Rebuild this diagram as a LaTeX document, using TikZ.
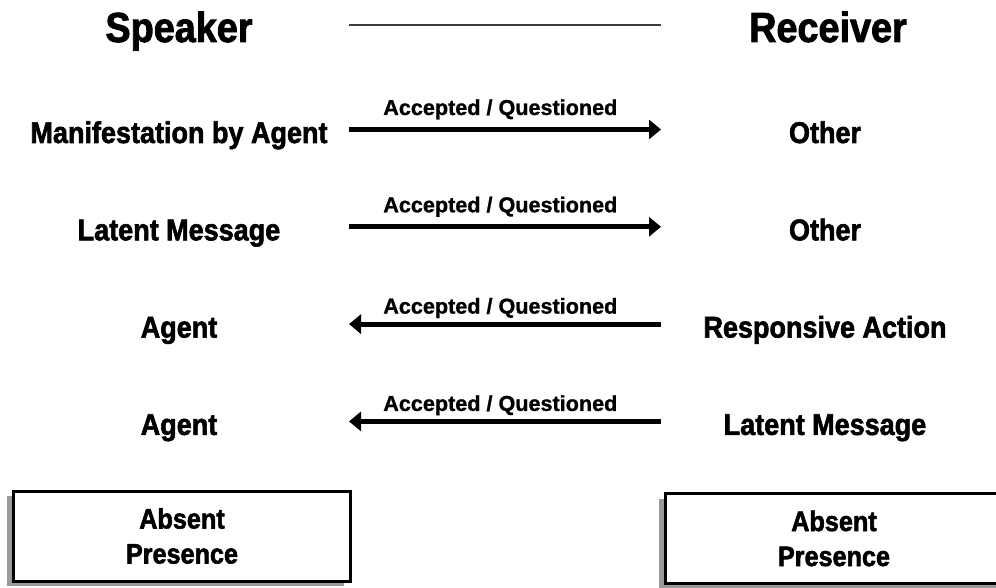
\documentclass[tikz,border=0pt]{standalone}
\usepackage{fontspec}
\newfontfamily\gruesa{Liberation Sans Bold}[FakeStretch=0.9, FakeBold=2]
\newfontfamily\delgada{Liberation Sans Bold}[FakeBold=1]
\usepackage{xcolor}
\usetikzlibrary{arrows.meta, positioning, shadows}
\definecolor{cnegro}{HTML}{000000}
\definecolor{cgris}{HTML}{3C3C3C}
\definecolor{csombra}{HTML}{9A9A9A}
\tikzset{
  titulo/.style={font=\gruesa\fontsize{42}{50}\selectfont, inner sep=0pt, text height=34pt, text depth=0pt},
  fila/.style={font=\gruesa\fontsize{30}{36}\selectfont, inner sep=0pt, text height=27pt, text depth=0pt},
  etiqueta/.style={font=\delgada\fontsize{21.6}{26}\selectfont, inner sep=0pt, text depth=0pt},
  caja/.style={draw=cnegro, fill=white, line width=3pt, minimum width=337pt, minimum height=90pt, align=center,
               font=\gruesa\fontsize{28}{35}\selectfont,
               drop shadow={shadow xshift=-7pt, shadow yshift=-5pt, fill=csombra, opacity=1}},
  flecha/.style={-{Triangle[length=12pt, width=19pt]}, line width=5pt, draw=cnegro},
  raya/.style={line width=2.5pt, draw=cgris},
}
\begin{document}
\begin{tikzpicture}[x=1pt, y=-1pt, node distance=97.3pt, on grid]
  \useasboundingbox (0,0) rectangle (996,588);
  \clip (0,0) rectangle (996,588);
  \coordinate (ml) at (349,0);
  \coordinate (mr) at (661,0);
  % encabezado
  \node[titulo, anchor=base] (s0) at (179,42) {Speaker};
  \node[titulo, anchor=base] (r0) at (828,42) {Receiver};
  \draw[raya] (ml |- s0) -- (mr |- s0);
  % filas
  \node[fila, anchor=base] (s1) at (179,143) {Manifestation by Agent};
  \node[fila, below=of s1] (s2) {Latent Message};
  \node[fila, below=of s2] (s3) {Agent};
  \node[fila, below=of s3] (s4) {Agent};
  \node[fila, right=646pt of s1] (r1) {Other};
  \node[fila, below=of r1] (r2) {Other};
  \node[fila, below=of r2] (r3) {Responsive Action};
  \node[fila, below=of r3] (r4) {Latent Message};
  \draw[flecha] (ml |- s1) -- (mr |- r1) node[etiqueta, pos=0.485, above=12pt] (e1) {Accepted / Questioned};
  \draw[flecha] (ml |- s2) -- (mr |- r2) node[etiqueta, pos=0.485, above=12pt] (e2) {Accepted / Questioned};
  \draw[flecha] (mr |- r3) -- (ml |- s3) node[etiqueta, pos=0.515, above=8pt] (e3) {Accepted / Questioned};
  \draw[flecha] (mr |- r4) -- (ml |- s4) node[etiqueta, pos=0.515, above=8pt] (e4) {Accepted / Questioned};
  % cajas
  \node[caja] (c1) at (182,536) {Absent\\Presence};
  \node[caja] (c2) at (834,538.5) {Absent\\Presence};
\end{tikzpicture}
\end{document}
